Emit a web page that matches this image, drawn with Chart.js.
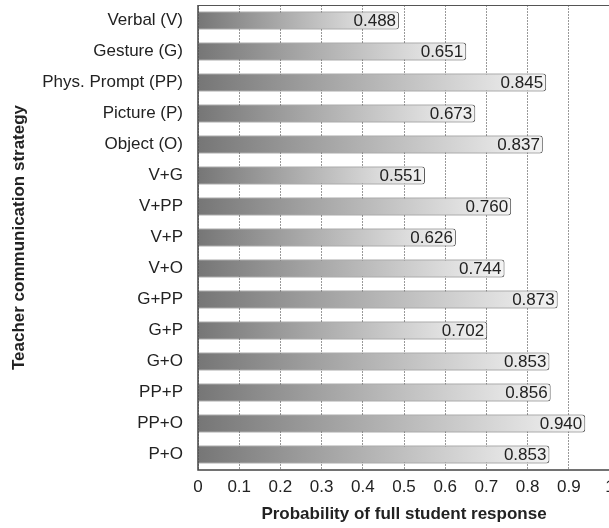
<!DOCTYPE html>
<html>
<head>
<meta charset="utf-8">
<script src="https://cdn.jsdelivr.net/npm/chart.js@4/dist/chart.umd.min.js"></script>
<style>
  html, body { margin: 0; padding: 0; background: #fff; overflow: hidden; }
  #wrap { width: 609px; height: 528px; overflow: hidden; }
  canvas { display: block; }
</style>
</head>
<body>
<div id="wrap"><canvas id="chart" width="620" height="528"></canvas></div>
<script>
// Communication strategies and the probability of a full student response
const strategies = [
  'Verbal (V)', 'Gesture (G)', 'Phys. Prompt (PP)', 'Picture (P)', 'Object (O)',
  'V+G', 'V+PP', 'V+P', 'V+O', 'G+PP', 'G+P', 'G+O', 'PP+P', 'PP+O', 'P+O'
];
const probabilities = [
  0.488, 0.651, 0.845, 0.673, 0.837,
  0.551, 0.760, 0.626, 0.744, 0.873, 0.702, 0.853, 0.856, 0.940, 0.853
];
const xTickValues = [0, 0.1, 0.2, 0.3, 0.4, 0.5, 0.6, 0.7, 0.8, 0.9, 1];

const FONT = "'Liberation Sans', Arial, Helvetica, sans-serif";

// Each bar fades from dark grey at the axis to near white at its end
function barGradient(ctx) {
  const chart = ctx.chart;
  if (!chart.chartArea || ctx.type !== 'data') return '#aaa';
  const xs = chart.scales.x;
  const x0 = xs.getPixelForValue(0);
  const x1 = xs.getPixelForValue(ctx.raw);
  const g = chart.ctx.createLinearGradient(x0, 0, x1, 0);
  g.addColorStop(0, '#767676');
  g.addColorStop(1, '#f4f4f4');
  return g;
}

// Value written at the end of each bar
const valueLabels = {
  id: 'valueLabels',
  afterDatasetsDraw(chart) {
    const c = chart.ctx;
    const meta = chart.getDatasetMeta(0);
    c.save();
    c.font = '17px ' + FONT;
    c.fillStyle = '#222';
    c.textAlign = 'right';
    c.textBaseline = 'middle';
    meta.data.forEach((el, i) => {
      c.fillText(probabilities[i].toFixed(3), el.x - 3, el.y + 1);
    });
    c.restore();
  }
};

// Frame: left axis, bottom axis and top edge of the plot
const frame = {
  id: 'frame',
  afterDraw(chart) {
    const { left, right, top, bottom } = chart.chartArea;
    const c = chart.ctx;
    c.save();
    c.strokeStyle = '#444';
    c.lineWidth = 1.5;
    c.beginPath();
    c.moveTo(left, top);
    c.lineTo(left, bottom);
    c.lineTo(right + 20, bottom);
    c.stroke();
    c.lineWidth = 1;
    c.strokeStyle = '#555';
    c.beginPath();
    c.moveTo(left, top + 0.5);
    c.lineTo(right + 20, top + 0.5);
    c.stroke();
    c.restore();
  }
};

new Chart(document.getElementById('chart'), {
  type: 'bar',
  data: {
    labels: strategies,
    datasets: [{
      data: probabilities,
      backgroundColor: barGradient,
      borderColor: '#5a5a5a',
      borderWidth: 1,
      borderRadius: 3,
      borderSkipped: 'start',
      categoryPercentage: 1,
      barPercentage: 0.58
    }]
  },
  options: {
    indexAxis: 'y',
    responsive: false,
    animation: false,
    layout: { padding: { left: 0, top: 5, right: 10, bottom: 0 } },
    plugins: { legend: { display: false }, tooltip: { enabled: false } },
    scales: {
      x: {
        type: 'linear',
        min: 0,
        max: 1,
        afterBuildTicks(scale) { scale.ticks = xTickValues.map(v => ({ value: v })); },
        afterFit(scale) {
          scale.height = 58;
          scale.paddingLeft = 0; scale.paddingRight = 0;
          scale.paddingTop = 0; scale.paddingBottom = 0;
        },
        ticks: {
          color: '#222',
          font: { family: FONT, size: 17 },
          padding: 7,
          maxRotation: 0,
          callback: v => String(v)
        },
        grid: { color: '#999', lineWidth: 1, drawTicks: false },
        border: { display: false, dash: [2, 1] },
        title: {
          display: true,
          text: 'Probability of full student response',
          color: '#222',
          font: { family: FONT, size: 17, weight: 'bold' },
          padding: { top: 0, bottom: 3 }
        }
      },
      y: {
        afterFit(scale) {
          scale.width = 198;
          scale.paddingLeft = 0; scale.paddingRight = 0;
          scale.paddingTop = 0; scale.paddingBottom = 0;
        },
        ticks: {
          color: '#222',
          font: { family: FONT, size: 17 },
          padding: 15
        },
        grid: { display: false, drawTicks: false },
        border: { display: false },
        title: {
          display: true,
          text: 'Teacher communication strategy',
          color: '#222',
          font: { family: FONT, size: 17, weight: 'bold' },
          padding: { top: 9, bottom: 0 }
        }
      }
    }
  },
  plugins: [valueLabels, frame]
});
</script>
</body>
</html>
